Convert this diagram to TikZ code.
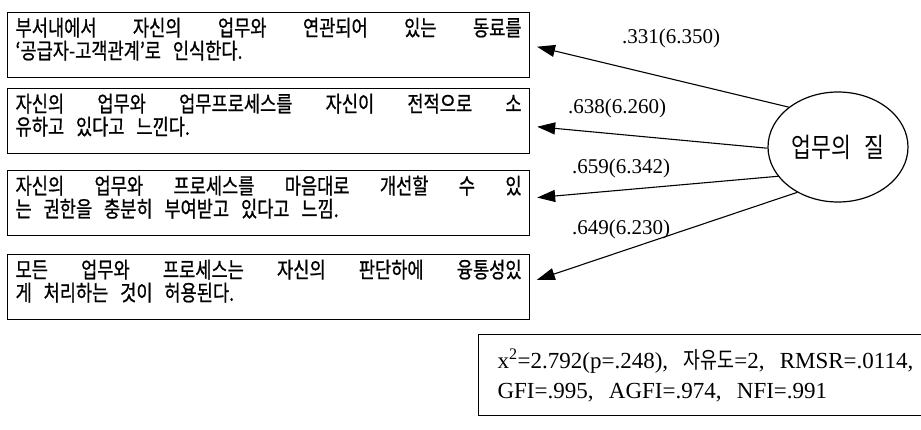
\documentclass[tikz,border=0pt]{standalone}
\usepackage{fontspec}
\setmainfont{Liberation Serif}
\newfontfamily\kr[FakeStretch=0.8]{Noto Sans CJK KR}
\newfontfamily\krtext[FakeStretch=0.8,FakeBold=0.8,WordSpace={3,3,1}]{Noto Sans CJK KR}
\usetikzlibrary{shapes.geometric,arrows.meta}
\begin{document}
\begin{tikzpicture}[x=1pt,y=-1pt,
		item/.style={draw,line width=1.2pt,anchor=north west,text width=506pt,
			inner xsep=8pt,inner ysep=5pt,align=justify,
			font=\krtext\fontsize{22}{23}\selectfont,
			execute at end node={\endgraf\vspace{12pt}}},
		coef/.style={font=\fontsize{21}{21}\selectfont},
		load/.style={-{Triangle[length=18pt,width=12pt]},line width=1.1pt,shorten >=7pt}]
			\clip (0,0) rectangle (921,429);
			\node (It1) at (7,12)  [item] {부서내에서 자신의 업무와 연관되어 있는 동료를\linebreak
									  ‘공급자-고객관계’로 인식한다.};
			\node (It2) at (7,88)  [item] {자신의 업무와 업무프로세스를 자신이 전적으로 소\linebreak
									  유하고 있다고 느낀다.};
			\node (It3) at (7,170) [item] {자신의 업무와 프로세스를 마음대로 개선할 수 있\linebreak
									  는 권한을 충분히 부여받고 있다고 느낌.};
			\node (It4) at (7,254) [item] {모든 업무와 프로세스는 자신의 판단하에 융통성있\linebreak
									  게 처리하는 것이 허용된다.};
			\node (Qw) at (838,147) [draw,ellipse,line width=1.2pt,minimum width=140pt,
									  minimum height=110pt,inner sep=0pt,
									  font=\kr\fontsize{27}{27}\selectfont] {업무의\hspace{0.5em}질};
			\draw[load] (Qw.141) -- (It1.east);
			\draw[load] (Qw.181) -- ([yshift=-5pt]It2.east);
			\draw[load] (Qw.206) -- ([yshift=5pt]It3.east);
			\draw[load] (Qw.228) -- ([yshift=5pt]It4.east);
			\node (L1) at (671,38)  [coef] {.331(6.350)};
			\node (L2) at (617,108) [coef] {.638(6.260)};
			\node (L3) at (621,168) [coef] {.659(6.342)};
			\node (L4) at (621,229) [coef] {.649(6.230)};
			\node (Fit) at (478,334) [draw,line width=1.2pt,anchor=north west,text width=460pt,
									  inner xsep=19pt,inner ysep=14pt,align=left,
									  font=\fontsize{23}{30}\selectfont]
									  {x\textsuperscript{2}=2.792(p=.248),\ \ {\kr 자유도}=2,\ \ RMSR=.0114,\\
									  GFI=.995,\ \ AGFI=.974,\ \ NFI=.991\endgraf\vspace{60pt}};
		\end{tikzpicture}
\end{document}
